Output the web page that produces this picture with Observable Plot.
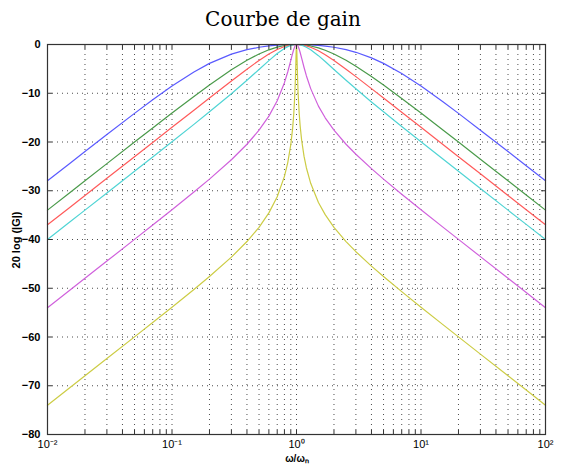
<!DOCTYPE html>
<html>
<head>
<meta charset="utf-8">
<script src="https://cdn.jsdelivr.net/npm/d3@7"></script>
<script src="https://cdn.jsdelivr.net/npm/@observablehq/plot@0.6"></script>
<style>
  body { margin: 0; background: #fff; }
  #title { height: 36px; line-height: 38px; font-family: "DejaVu Serif", "Liberation Serif", serif; font-size: 20px; color: #000; text-align: center; width: 566px; }
  svg text { font-family: "Liberation Sans", Arial, sans-serif; }
</style>
</head>
<body>
<div id="title">Courbe de gain</div>
<div id="chart"></div>
<script>
// Reduced frequency ω/ωn
const freq = [0.01, 0.015, 0.02, 0.03, 0.05, 0.07, 0.1, 0.15, 0.2, 0.3, 0.4, 0.5, 0.6, 0.7, 0.8, 0.85, 0.9, 0.93, 0.95, 0.97, 0.98, 0.99, 0.995, 1,
  1.005, 1.01, 1.02, 1.03, 1.05, 1.07, 1.1, 1.15, 1.2, 1.3, 1.5, 1.7, 2, 2.5, 3, 4, 5, 7, 10, 15, 20, 30, 50, 70, 100];

// Gain in dB for each curve
const gainBlue = [-27.96, -24.45, -21.96, -18.47, -14.13, -11.35, -8.53, -5.63, -3.87, -1.97, -1.06, -0.57, -0.30, -0.14, -0.05, -0.03, -0.01, -0.006, -0.003, -0.001, 0, 0, 0, 0,
  0, 0, 0, -0.001, -0.003, -0.005, -0.01, -0.02, -0.036, -0.076, -0.18, -0.32, -0.57, -1.06, -1.60, -2.74, -3.87, -5.95, -8.53, -11.74, -14.13, -17.57, -21.96, -24.87, -27.96];
const gainGreen = [-33.98, -30.46, -27.96, -24.44, -20.02, -17.12, -14.07, -10.65, -8.30, -5.18, -3.23, -1.94, -1.09, -0.54, -0.21, -0.11, -0.05, -0.023, -0.011, -0.004, -0.002, 0, 0, 0,
  0, 0, -0.002, -0.004, -0.010, -0.020, -0.039, -0.085, -0.14, -0.30, -0.70, -1.17, -1.94, -3.23, -4.44, -6.55, -8.30, -11.06, -14.07, -17.54, -20.02, -23.53, -27.96, -30.88, -33.98];
const gainRed = [-36.99, -33.47, -30.97, -27.45, -23.01, -20.09, -16.99, -13.47, -10.98, -7.48, -5.06, -3.27, -1.96, -1.02, -0.42, -0.23, -0.10, -0.046, -0.023, -0.008, -0.004, -0.001, 0, 0,
  0, -0.001, -0.003, -0.008, -0.021, -0.040, -0.078, -0.17, -0.28, -0.57, -1.29, -2.09, -3.27, -5.06, -6.59, -9.05, -10.98, -13.89, -16.99, -20.51, -23.01, -26.53, -30.97, -33.89, -36.99];
const gainCyan = [-40.00, -36.48, -33.98, -30.45, -26.01, -23.08, -19.96, -16.38, -13.81, -10.09, -7.33, -5.12, -3.30, -1.85, -0.80, -0.44, -0.19, -0.09, -0.046, -0.016, -0.007, -0.002, 0, 0,
  0, -0.002, -0.007, -0.015, -0.041, -0.079, -0.155, -0.33, -0.55, -1.08, -2.29, -3.49, -5.12, -7.33, -9.09, -11.78, -13.81, -16.81, -19.96, -23.50, -26.01, -29.54, -33.98, -36.90, -40.00];
const gainMagenta = [-53.98, -50.46, -47.96, -44.43, -39.98, -37.04, -33.89, -30.26, -27.61, -23.64, -20.46, -17.58, -14.69, -11.54, -7.83, -5.64, -3.25, -1.84, -1.02, -0.39, -0.17, -0.04, -0.01, 0,
  -0.01, -0.04, -0.17, -0.36, -0.93, -1.64, -2.81, -4.72, -6.40, -9.05, -12.64, -15.04, -17.58, -20.46, -22.52, -25.47, -27.61, -30.71, -33.89, -37.46, -39.98, -43.51, -47.96, -50.88, -53.98];
const gainYellow = [-73.98, -70.46, -67.96, -64.43, -59.98, -57.04, -53.89, -50.26, -47.60, -43.62, -40.42, -37.50, -34.54, -31.23, -27.05, -24.27, -20.51, -17.30, -14.37, -10.12, -7.06, -3.03, -0.97, 0,
  -0.96, -2.99, -6.92, -9.89, -13.95, -16.71, -19.64, -22.96, -25.28, -28.48, -32.40, -34.90, -37.50, -40.42, -42.50, -45.46, -47.60, -50.70, -53.89, -57.46, -59.98, -63.51, -67.96, -70.88, -73.98];

const seriesNames = ["Q = 0.25", "Q = 0.5", "Q = 0.707", "Q = 1", "Q = 5", "Q = 50"];
const seriesColors = ["#5a5aff", "#4a9a4a", "#ff5a5a", "#4fd4d4", "#d060dc", "#cccc44"];
const seriesGains = [gainBlue, gainGreen, gainRed, gainCyan, gainMagenta, gainYellow];

const yTicks = [0, -10, -20, -30, -40, -50, -60, -70, -80];
const xMajor = [0.01, 0.1, 1, 10, 100];
const xMajorLabels = ["10⁻²", "10⁻¹", "10⁰", "10¹", "10²"];
const xMinor = [];
for (const d of [0.01, 0.1, 1, 10]) for (let k = 1; k <= 9; k++) xMinor.push(+(d * k).toPrecision(3));
xMinor.push(100);

const rows = [];
seriesNames.forEach((s, i) => freq.forEach((f, j) => rows.push({s, f, g: seriesGains[i][j]})));

const plot = Plot.plot({
  width: 566,
  height: 431,
  marginTop: 8,
  marginBottom: 33,
  marginLeft: 47,
  marginRight: 21,
  x: {type: "log", domain: [0.01, 100], axis: null},
  y: {domain: [-80, 0], axis: null},
  color: {type: "ordinal", domain: seriesNames, range: seriesColors},
  marks: [
    Plot.gridX(xMinor, {stroke: "#000", strokeOpacity: 0.7, strokeDasharray: "1,4", strokeWidth: 1}),
    Plot.gridY(yTicks, {stroke: "#000", strokeOpacity: 0.7, strokeDasharray: "1,4", strokeWidth: 1}),
    Plot.line(rows, {x: "f", y: "g", z: "s", stroke: "s", strokeWidth: 1.2, curve: "linear"}),
    Plot.axisX(xMinor, {anchor: "top", tickSize: -4, tickFormat: () => "", stroke: "#333", label: null}),
    Plot.axisX(xMinor, {anchor: "bottom", tickSize: -4, tickFormat: () => "", stroke: "#333", label: null}),
    Plot.text(xMajor, {x: d => d, frameAnchor: "bottom", dy: 13, text: (d, i) => xMajorLabels[i], fontSize: 11, fill: "#000"}),
    Plot.axisY(yTicks, {anchor: "left", tickSize: -5, tickPadding: 12, fontSize: 11, fontWeight: "bold", fill: "#000", stroke: "#333", label: null}),
    Plot.axisY(yTicks, {anchor: "right", tickSize: -5, tickFormat: () => "", stroke: "#333", label: null}),
    Plot.frame({stroke: "#333", strokeWidth: 1.2})
  ]
});
document.getElementById("chart").appendChild(plot);

// axis titles as real text in the svg
const svg = d3.select(plot);
svg.append("text")
  .attr("x", 297).attr("y", 426)
  .attr("text-anchor", "middle")
  .attr("font-size", 10).attr("font-weight", "bold")
  .text("ω/ωₙ");
svg.append("text")
  .attr("transform", "translate(20,204) rotate(-90)")
  .attr("text-anchor", "middle")
  .attr("font-size", 11).attr("font-weight", "bold")
  .text("20 log (|G|)");
</script>
</body>
</html>
